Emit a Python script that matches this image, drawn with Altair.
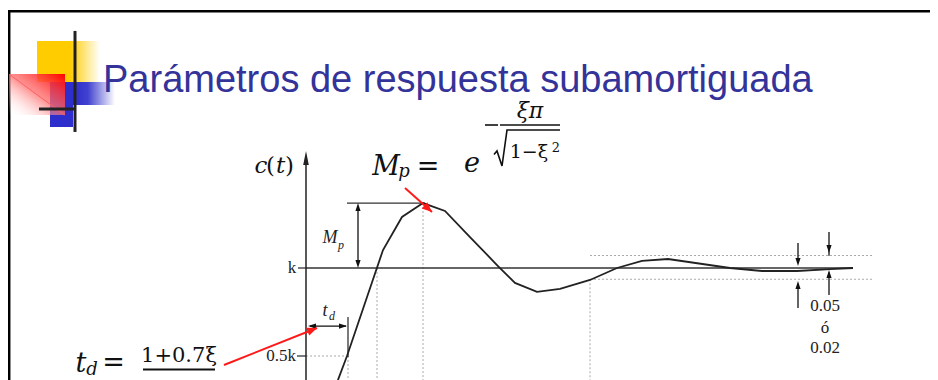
import math
import altair as alt
import pandas as pd

# ---------------- data (t: time units, c: response in units of k) ----------------
curve_t = [0.0, 0.64, 0.82, 1.18, 1.54, 1.92, 2.34, 2.78, 3.28, 3.82, 4.18, 4.62,
           5.08, 5.68, 6.22, 6.72, 7.24, 8.48, 9.12, 9.82, 10.48, 10.94]
curve_c = [0.0, 0.364, 0.5, 0.801, 1.102, 1.29, 1.369, 1.324, 1.176, 1.017, 0.915, 0.864,
           0.881, 0.932, 1.0, 1.04, 1.051, 1.0, 0.983, 0.983, 0.994, 1.0]

k_level = 1.0
half_level = 0.5
peak_level = 1.369
band_hi = 1.071
band_lo = 0.936
t_delay = 0.84      # delay time
t_rise = 1.42       # rise time
t_peak = 2.34       # peak time
t_settle = 5.68     # settling time
t_end = 10.94
t_band_end = 11.34

title_text = "Parámetros de respuesta subamortiguada"
ylabels = ["k", "0.5k"]
tol_labels = ["0.05", "ó", "0.02"]

# ---------------- layout ----------------
W, H = 922, 372
X_DOM = [-5.96, 12.48]
Y_DOM = [0.3636, 2.4773]
PX_T = W / (X_DOM[1] - X_DOM[0])
PX_C = H / (Y_DOM[1] - Y_DOM[0])

xs = alt.Scale(domain=X_DOM, nice=False, zero=False)
ys = alt.Scale(domain=Y_DOM, nice=False, zero=False)


def X(f="t"):
    return alt.X(f, type="quantitative", scale=xs, axis=None)


def Y(f="c"):
    return alt.Y(f, type="quantitative", scale=ys, axis=None)


def segs(rows, **props):
    df = pd.DataFrame(rows, columns=["t", "c", "t2", "c2"])
    return alt.Chart(df).mark_rule(**props).encode(
        x=X("t"), y=Y("c"), x2=alt.X2("t2"), y2=alt.Y2("c2"))


def texts(rows, **props):
    df = pd.DataFrame(rows, columns=["t", "c", "label"])
    return alt.Chart(df).mark_text(**props).encode(x=X(), y=Y(), text="label:N")


def heads(rows, shape, size, color):
    df = pd.DataFrame(rows, columns=["t", "c", "angle"])
    return alt.Chart(df).mark_point(shape=shape, size=size, filled=True, color=color,
                                    opacity=1, strokeWidth=0).encode(
        x=X(), y=Y(), angle=alt.Angle("angle:Q", scale=None))


def rect(t1, t2, c1, c2, fill):
    df = pd.DataFrame({"t": [t1], "t2": [t2], "c": [c1], "c2": [c2]})
    return alt.Chart(df).mark_rect(fill=fill, strokeWidth=0).encode(
        x=X(), x2=alt.X2("t2"), y=Y(), y2=alt.Y2("c2"))


def screen_angle(t1, c1, t2, c2):
    dx = (t2 - t1) * PX_T
    dy = -(c2 - c1) * PX_C
    return math.degrees(math.atan2(dx, -dy)) % 360


layers = []

# ---------------- slide decoration ----------------
layers.append(segs([[X_DOM[0], 2.4585, X_DOM[1], 2.4585]], color="#000", strokeWidth=2.5))
layers.append(segs([[-5.936, 0.3, -5.936, 2.4585]], color="#000", strokeWidth=2.5, clip=True))

yellow = {"gradient": "linear", "x1": 0, "y1": 0, "x2": 1, "y2": 0,
          "stops": [{"offset": 0, "color": "#FFCC00"}, {"offset": 0.52, "color": "#FFCC00"},
                    {"offset": 1, "color": "#FFFFFF"}]}
blue_fade = {"gradient": "linear", "x1": 0, "y1": 0, "x2": 1, "y2": 0,
             "stops": [{"offset": 0, "color": "#2E2ECC"}, {"offset": 0.35, "color": "#4040D0"},
                       {"offset": 1, "color": "#FFFFFF"}]}
red_fade = {"gradient": "linear", "x1": 1, "y1": 0, "x2": 0, "y2": 1,
            "stops": [{"offset": 0, "color": "#FF0000"},
                      {"offset": 0.5, "color": "rgba(255,110,110,0.75)"},
                      {"offset": 1, "color": "rgba(255,255,255,0)"}]}
layers.append(rect(-5.38, -4.12, 2.057, 2.290, yellow))
layers.append(rect(-5.12, -4.66, 1.801, 2.057, "#2E2ECC"))
layers.append(rect(-4.66, -3.82, 1.926, 2.057, blue_fade))
layers.append(rect(-5.94, -4.82, 1.869, 2.102, red_fade))
layers.append(segs([[-5.92, 2.097, -4.82, 1.869]], color="#ff6060", strokeWidth=1))
layers.append(segs([[-4.62, 1.773, -4.62, 2.347], [-5.34, 1.903, -4.62, 1.903]],
                   color="#222", strokeWidth=3))

layers.append(texts([[-4.06, 2.0, title_text]], align="left", baseline="alphabetic",
                    font="Liberation Sans", fontSize=38, color="#333399"))

# ---------------- guide lines ----------------
dotted = [
    [t_delay, half_level, t_delay, 0.3],
    [t_rise, k_level, t_rise, 0.3],
    [t_peak, peak_level, t_peak, 0.3],
    [t_settle, band_lo, t_settle, 0.3],
    [0.0, half_level, t_delay, half_level],
    [t_settle, band_hi, t_band_end, band_hi],
    [t_settle, band_lo, t_band_end, band_lo],
]
layers.append(segs(dotted, color="#aaaaaa", strokeWidth=1, strokeDash=[2, 2], clip=True))

solid = [
    [0.0, k_level, t_end, k_level],
    [t_delay - 0.02, peak_level, t_peak + 0.04, peak_level],
    [t_delay, 0.722, t_delay, 0.494],
    [-0.16, k_level, 0.0, k_level],
    [-0.18, half_level, 0.0, half_level],
]
layers.append(segs(solid, color="#333", strokeWidth=1.3))

# y axis with arrow
layers.append(segs([[0.0, 0.3, 0.0, 1.62]], color="#222", strokeWidth=1.5, clip=True))
layers.append(heads([[0.0, 1.665, 0]], "M0,0L0.2,1L-0.2,1Z", 784, "#222"))

# response curve
curve = pd.DataFrame({"t": curve_t, "c": curve_c})
layers.append(alt.Chart(curve).mark_line(color="#222", strokeWidth=1.8, clip=True).encode(
    x=X(), y=Y()))

# ---------------- dimension arrows ----------------
mp_t = 1.04
td_c = 0.670
arrows = [
    [mp_t, k_level + 0.03, mp_t, peak_level - 0.03],
    [0.08, td_c, t_delay - 0.04, td_c],
    [9.84, 1.142, 9.84, 1.03],
    [9.84, 0.773, 9.84, 0.91],
    [10.46, 1.205, 10.46, 1.07],
    [10.46, 0.847, 10.46, 0.975],
]
layers.append(segs(arrows, color="#111", strokeWidth=1.3))
small_heads = [
    [mp_t, peak_level, 0], [mp_t, k_level, 180],
    [0.04, td_c, 270], [t_delay - 0.02, td_c, 90],
    [9.84, 1.011, 180], [9.84, 0.926, 0],
    [10.46, 1.085, 180], [10.46, 0.989, 0],
]
layers.append(heads(small_heads, "M0,0L0.32,1L-0.32,1Z", 256, "#111"))

# red pointer arrows
red_a = [1.98, 1.4545, 2.52, 1.318]
red_b = [-1.64, 0.449, 0.22, 0.659]
layers.append(segs([red_a, red_b], color="#ff1a1a", strokeWidth=2))
layers.append(heads([[red_a[2], red_a[3], screen_angle(*red_a)],
                     [red_b[2], red_b[3], screen_angle(*red_b)]],
                    "M0,0L0.42,1L-0.42,1Z", 400, "#ff1a1a"))

# ---------------- chart labels ----------------
layers.append(texts([[-0.28, k_level, ylabels[0]]], align="center", baseline="middle",
                    font="Liberation Serif", fontSize=17, color="#222"))
layers.append(texts([[-0.2, half_level, ylabels[1]]], align="right", baseline="middle",
                    font="Liberation Serif", fontSize=17, color="#222"))
layers.append(texts([[10.38, 0.784, tol_labels[0]], [10.38, 0.659, tol_labels[1]],
                     [10.38, 0.545, tol_labels[2]]], align="center", baseline="middle",
                    font="Liberation Serif", fontSize=17, color="#222"))
layers.append(texts([[0.48, 1.17, "M"], [0.38, 0.756, "t"]], align="center", baseline="middle",
                    font="Liberation Serif", fontStyle="italic", fontSize=18, color="#222"))
layers.append(texts([[0.70, 1.131, "p"], [0.52, 0.727, "d"]], align="center", baseline="middle",
                    font="Liberation Serif", fontStyle="italic", fontSize=12, color="#222"))
layers.append(texts([[-0.9, 1.58, "c"], [-0.51, 1.58, "t"]], align="center", baseline="middle",
                    font="DejaVu Serif", fontStyle="italic", fontSize=23, color="#111"))
layers.append(texts([[-0.71, 1.58, "("], [-0.33, 1.58, ")"]], align="center", baseline="middle",
                    font="DejaVu Serif", fontSize=23, color="#111"))

# ---------------- formulas ----------------
math_font = "DejaVu Serif"
layers.append(texts([[1.6, 1.528, "M"], [3.32, 1.545, "e"], [-4.5, 0.409, "t"]],
                    align="center", baseline="alphabetic", font=math_font,
                    fontStyle="italic", fontSize=27, color="#111"))
layers.append(texts([[1.96, 1.517, "p"], [-4.28, 0.392, "d"]],
                    align="center", baseline="alphabetic", font=math_font,
                    fontStyle="italic", fontSize=18, color="#111"))
layers.append(texts([[2.44, 1.528, "="], [-3.85, 0.415, "="]],
                    align="center", baseline="alphabetic", font=math_font,
                    fontSize=27, color="#111"))
layers.append(texts([[4.48, 1.892, "ξπ"]], align="center", baseline="middle", font=math_font,
                    fontStyle="italic", fontSize=22, color="#111"))
layers.append(texts([[4.46, 1.659, "1−ξ"]], align="center", baseline="middle", font=math_font,
                    fontSize=19, color="#111"))
layers.append(texts([[5.0, 1.68, "2"]], align="center", baseline="middle", font=math_font,
                    fontSize=13, color="#111"))
# radical sign of the square root
radical = pd.DataFrame({"t": [3.76, 3.82, 3.92, 4.02, 5.08],
                        "c": [1.645, 1.665, 1.5795, 1.784, 1.784]})
layers.append(alt.Chart(radical).mark_line(color="#111", strokeWidth=1.6).encode(
    x=X(), y=Y(), order=alt.Order("t:Q")))
layers.append(texts([[-2.54, 0.466, "1+0.7ξ"]], align="center", baseline="alphabetic",
                    font=math_font, fontSize=21, color="#111"))
layers.append(segs([[3.58, 1.8125, 3.84, 1.8125], [3.88, 1.8125, 5.08, 1.8125]],
                   color="#111", strokeWidth=1.6))
layers.append(segs([[-3.26, 0.423, -1.82, 0.423]], color="#111", strokeWidth=2))

chart = alt.layer(*layers).properties(
    width=W, height=H, padding=0, autosize=alt.AutoSizeParams(type="none"),
    background="white"
).configure_view(stroke=None)

chart.save("out.html", embed_options={"renderer": "svg", "actions": False})
